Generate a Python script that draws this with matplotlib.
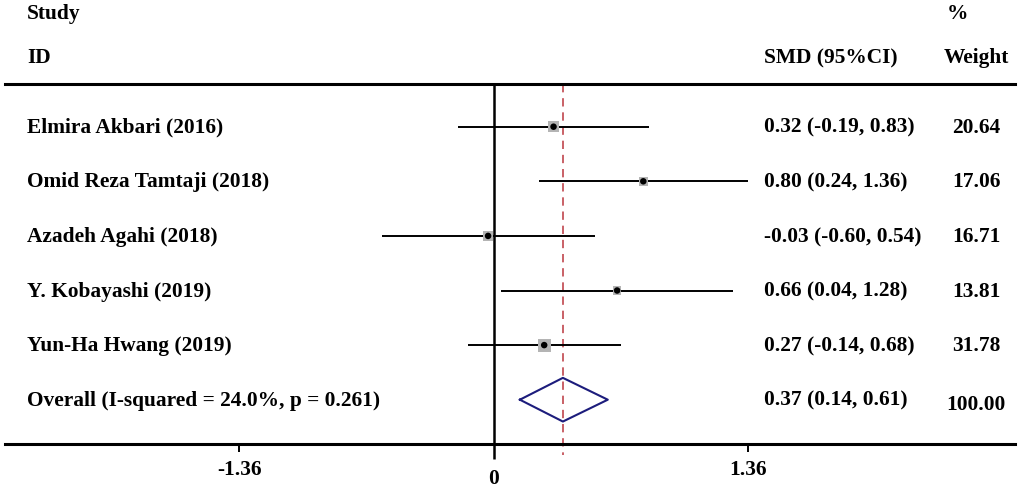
import matplotlib
matplotlib.use("Agg")

import numpy as np
import matplotlib.pyplot as plt
import matplotlib.transforms as mtransforms

# study level data
studies = ["Elmira Akbari (2016)", "Omid Reza Tamtaji (2018)", "Azadeh Agahi (2018)",
           "Y. Kobayashi (2019)", "Yun-Ha Hwang (2019)"]
smd = [0.32, 0.80, -0.03, 0.66, 0.27]
ci_lo = [-0.19, 0.24, -0.60, 0.04, -0.14]
ci_hi = [0.83, 1.36, 0.54, 1.28, 0.68]
weights = [20.64, 17.06, 16.71, 13.81, 31.78]

overall_smd = 0.37
overall_lo = 0.14
overall_hi = 0.61
i_squared = 24.0
p_het = 0.261

xticks = [-1.36, 1.36]

plt.rcParams['font.family'] = ['Liberation Serif', 'DejaVu Serif']
plt.rcParams['font.weight'] = 'bold'
FS = 15.4

W, H = 1020, 492
fig = plt.figure(figsize=(W / 100, H / 100), dpi=100)

# axes spans the region between the two horizontal rules
ax_left, ax_right, ax_top, ax_bot = 5, 1015, 84, 444
ax = fig.add_axes([ax_left / W, 1 - ax_bot / H, (ax_right - ax_left) / W, (ax_bot - ax_top) / H])

x0_px, px_per_unit = 493.7, 187.0
row0_px, row_step = 126.7, 54.6
ax.set_xlim((ax_left - x0_px) / px_per_unit, (ax_right - x0_px) / px_per_unit)
y_top = (ax_top - row0_px) / row_step
y_bot = (ax_bot - row0_px) / row_step
ax.set_ylim(y_bot, y_top)

rows = np.arange(len(studies))
n = len(studies)

# zero line and dashed overall line
ax.axvline(0, color='black', lw=1.8, zorder=2)
ax.plot([overall_smd, overall_smd], [y_top, y_bot + 0.2], color='#c0454d', lw=1.2,
        ls=(0, (5, 3.5)), clip_on=False, zorder=1)

# confidence intervals
ax.hlines(rows, ci_lo, ci_hi, color='black', lw=1.4, zorder=3)
ax.scatter(smd, rows, marker='s', s=np.array(weights) * 2.8, color='#b4b4b4',
           edgecolor='none', zorder=4)
ax.scatter(smd, rows, marker='o', s=22, color='black', edgecolor='none', zorder=5)

# overall diamond
dh = 0.4
ax.plot([overall_lo, overall_smd, overall_hi, overall_smd, overall_lo],
        [n, n - dh, n, n + dh, n], color='#1c1c7c', lw=1.5, zorder=5)

# spines and ticks
for s in ['left', 'right']:
    ax.spines[s].set_visible(False)
for s in ['top', 'bottom']:
    ax.spines[s].set_linewidth(2.2)
ax.set_yticks([])
ax.set_xticks(xticks)
ax.set_xticklabels(["%.2f" % t for t in xticks], fontsize=FS, fontweight='bold')
ax.set_xticks([0], minor=True)
ax.set_xticklabels(["0"], minor=True, fontsize=FS, fontweight='bold')
ax.tick_params(axis='x', which='major', direction='out', length=5.8, width=1.4, pad=6)
ax.tick_params(axis='x', which='minor', direction='out', length=11, width=1.8, pad=7)

# text columns
trans = mtransforms.blended_transform_factory(fig.transFigure, ax.transData)
x_study = 27 / W
x_smd = 764 / W
x_wt = 976 / W

ax.text(x_study, (14 - row0_px) / row_step, "Study", transform=trans, fontsize=FS,
        fontweight='bold', va='center', ha='left')
ax.text(x_study, (58 - row0_px) / row_step, "ID", transform=trans, fontsize=FS,
        fontweight='bold', va='center', ha='left')
ax.text(x_smd, (58 - row0_px) / row_step, "SMD (95%CI)", transform=trans, fontsize=FS,
        fontweight='bold', va='center', ha='left')
ax.text(947 / W, (14 - row0_px) / row_step, "%", transform=trans, fontsize=FS,
        fontweight='bold', va='center', ha='left')
ax.text(x_wt, (58 - row0_px) / row_step, "Weight", transform=trans, fontsize=FS,
        fontweight='bold', va='center', ha='center')

for i in range(n):
    ax.text(x_study, i + 0.02, studies[i], transform=trans, fontsize=FS, fontweight='bold',
            va='center', ha='left')
    ax.text(x_smd, i + 0.02, "%.2f (%.2f, %.2f)" % (smd[i], ci_lo[i], ci_hi[i]),
            transform=trans, fontsize=FS, fontweight='bold', va='center', ha='left')
    ax.text(x_wt, i + 0.02, "%.2f" % weights[i], transform=trans, fontsize=FS,
            fontweight='bold', va='center', ha='center')

ax.text(x_study, n + 0.02, "Overall (I-squared = %.1f%%, p = %.3f)" % (i_squared, p_het),
        transform=trans, fontsize=FS, fontweight='bold', va='center', ha='left')
ax.text(x_smd, n + 0.02, "%.2f (%.2f, %.2f)" % (overall_smd, overall_lo, overall_hi),
        transform=trans, fontsize=FS, fontweight='bold', va='center', ha='left')
ax.text(x_wt, n + 0.1, "%.2f" % sum(weights), transform=trans, fontsize=FS,
        fontweight='bold', va='center', ha='center')

fig.savefig("out.png", dpi=100)
